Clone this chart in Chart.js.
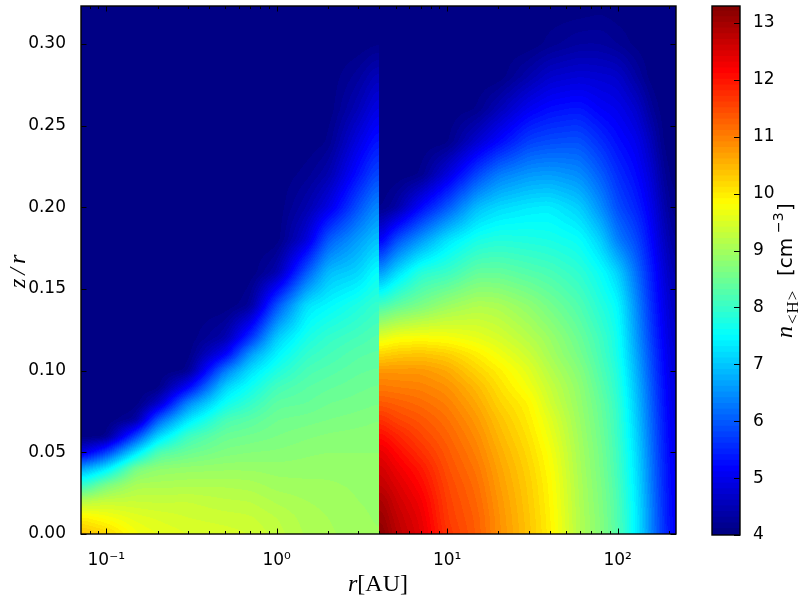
<!DOCTYPE html>
<html><head><meta charset="utf-8">
<style>html,body{margin:0;padding:0;background:#fff;width:800px;height:600px;overflow:hidden}
canvas{position:absolute;top:0}</style>
<script src="https://cdn.jsdelivr.net/npm/chart.js@4"></script></head>
<body><canvas id="main" width="800" height="600" style="left:0"></canvas>
<canvas id="bar" width="110" height="600" style="left:690px"></canvas>
<script>
const zRows=[0,.01,.02,.03,.04,.05,.06,.07,.08,.09,.10,.11,.12,.14,.16,.18,.20,.22,.24,.26,.28,.30,.3233];
const innerR=[0.0711,0.1,0.15,0.2,0.3,0.5,0.7,1,1.5,2,3,4];
const inner071=[10.4,9.95,9.15,7.9,6.6,4.8,4];
const inner010=[10.2,9.75,9.3,8.6,7.3,5.7,4.05,4];
const inner015=[9.72,9.55,9.3,9.05,8.6,7.25,5.8,4.25,4];
const inner020=[9.6,9.48,9.28,9.05,8.8,8.2,7.1,6.0,4.6,4];
const inner030=[9.5,9.4,9.3,9.08,8.85,8.45,8.05,7.25,6.4,5.1,4.1,4];
const inner050=[9.45,9.35,9.22,9.08,8.88,8.65,8.45,8.15,7.6,7.1,6.3,5.1,4.4,4];
const inner070=[9.4,9.32,9.2,9.05,8.88,8.7,8.52,8.3,7.95,7.6,7.2,6.6,5.6,4.2,4];
const inner100=[9.25,9.2,9.08,8.95,8.85,8.72,8.6,8.5,8.35,8.1,7.75,7.4,7.05,5.9,4.4,4];
const inner150=[9.08,9.05,9.0,8.93,8.85,8.78,8.68,8.55,8.4,8.3,8.15,7.95,7.7,7.25,6.0,4.8,4.4,4.15,4];
const inner200=[9.02,9.0,8.97,8.92,8.86,8.8,8.72,8.6,8.5,8.38,8.25,8.1,7.95,7.45,6.9,6.0,4.9,4.4,4.1,4];
const inner300=[8.95,8.93,8.9,8.88,8.84,8.8,8.75,8.65,8.55,8.47,8.38,8.28,8.12,7.75,7.1,6.6,5.9,5.3,4.9,4.5,4.25,4];
const inner400=[8.9,8.88,8.87,8.85,8.82,8.8,8.76,8.7,8.6,8.52,8.42,8.33,8.25,8.0,7.6,7.0,6.5,5.9,5.4,5.0,4.6,4.1,4];
const innerCols=[inner071,inner010,inner015,inner020,inner030,inner050,inner070,inner100,inner150,inner200,inner300,inner400];
const outerR=[4,5,7,10,15,20,30,40,60,80,100,130,160,190,220];
const outer004=[13.3,13.15,13.0,12.75,12.6,12.4,12.1,11.75,11.35,11.04,10.76,10.2,9.55,8.05,6.5,4.95,4.05,4];
const outer005=[12.8,12.72,12.6,12.47,12.3,12.1,11.85,11.52,11.28,11.0,10.76,10.3,9.75,8.35,7.15,5.85,4.3,4];
const outer007=[12.42,12.35,12.25,12.1,11.95,11.72,11.52,11.36,11.16,10.96,10.76,10.35,9.8,8.6,7.85,6.55,5.2,4.1,4];
const outer010=[11.68,11.6,11.56,11.5,11.42,11.34,11.24,11.12,10.98,10.82,10.6,10.25,9.75,8.9,8.0,7.25,5.95,4.85,4.05,4];
const outer015=[11.28,11.26,11.2,11.14,11.06,10.96,10.86,10.74,10.6,10.44,10.2,9.95,9.6,9.1,8.4,7.7,6.9,5.8,4.75,4.1,4];
const outer020=[10.84,10.82,10.78,10.72,10.66,10.58,10.48,10.38,10.23,10.1,9.95,9.7,9.45,9.05,8.4,7.8,7.15,6.3,5.2,4.5,4];
const outer030=[10.35,10.33,10.3,10.27,10.22,10.15,10.07,9.98,9.9,9.7,9.55,9.35,9.15,8.8,8.25,7.75,7.3,6.55,5.75,5.05,4.4,4];
const outer040=[9.95,9.93,9.9,9.87,9.82,9.75,9.65,9.55,9.4,9.3,9.15,9.0,8.9,8.55,8.15,7.7,7.35,6.6,5.85,5.25,4.7,4.15,4];
const outer060=[9.1,9.09,9.07,9.05,9.02,8.99,8.95,8.9,8.85,8.8,8.7,8.55,8.45,8.2,7.9,7.55,7.05,6.45,5.9,5.35,4.8,4.3,4];
const outer080=[8.7,8.68,8.65,8.62,8.58,8.55,8.5,8.45,8.4,8.3,8.2,8.12,8.05,7.8,7.55,7.05,6.45,6.0,5.55,5.1,4.75,4.3,4.05];
const outer100=[8.25,8.22,8.2,8.15,8.1,8.07,8.03,8.0,7.95,7.87,7.8,7.7,7.65,7.5,7.1,6.3,5.85,5.55,5.25,5.0,4.7,4.2,4];
const outer130=[7.35,7.33,7.3,7.25,7.2,7.15,7.07,7.0,6.93,6.85,6.75,6.65,6.55,6.4,6.15,5.8,5.45,5.2,5.0,4.7,4.3,4.05,4];
const outer160=[6.3,6.28,6.25,6.2,6.17,6.12,6.08,6.02,5.97,5.9,5.82,5.75,5.65,5.5,5.35,5.15,4.95,4.75,4.5,4.2,4];
const outer190=[5.5,5.48,5.45,5.42,5.4,5.35,5.32,5.28,5.22,5.18,5.12,5.07,5.0,4.9,4.75,4.55,4.35,4.15,4];
const outer220=[5.0,4.99,4.98,4.96,4.93,4.9,4.87,4.83,4.8,4.76,4.72,4.68,4.62,4.5,4.35,4.2,4.05,4];
const outerCols=[outer004,outer005,outer007,outer010,outer015,outer020,outer030,outer040,outer060,outer080,outer100,outer130,outer160,outer190,outer220];
const yTicks=[0,.05,.10,.15,.20,.25,.30];
const xMajor=[0.1,1,10,100];
const xLabels={0.1:'10⁻¹',1:'10⁰',10:'10¹',100:'10²'};
const xMinor=[0.08,0.09,0.2,0.3,0.4,0.5,0.6,0.7,0.8,0.9,2,3,4,5,6,7,8,9,20,30,40,50,60,70,80,90,200];
const cbTicks=[4,5,6,7,8,9,10,11,12,13];
const levels=[4,4.1,4.2,4.3,4.4,4.5,4.6,4.7,4.8,4.9,5,5.1,5.2,5.3,5.4,5.5,5.6,5.7,5.8,5.9,6,6.1,6.2,6.3,6.4,6.5,6.6,6.7,6.8,6.9,7,7.1,7.2,7.3,7.4,7.5,7.6,7.7,7.8,7.9,8,8.1,8.2,8.3,8.4,8.5,8.6,8.7,8.8,8.9,9,9.1,9.2,9.3,9.4,9.5,9.6,9.7,9.8,9.9,10,10.1,10.2,10.3,10.4,10.5,10.6,10.7,10.8,10.9,11,11.1,11.2,11.3,11.4,11.5,11.6,11.7,11.8,11.9,12,12.1,12.2,12.3,12.4,12.5,12.6,12.7,12.8,12.9,13,13.1,13.2];
const vMin=4,vMax=13.3,levelStep=0.1;

function jet(v){
  const t=Math.min(1,Math.max(0,(v-vMin)/(vMax-vMin)));
  const c=x=>Math.round(255*Math.min(1,Math.max(0,x)));
  return [c(1.5-Math.abs(4*t-3)),c(1.5-Math.abs(4*t-2)),c(1.5-Math.abs(4*t-1))];
}
const locate=(a,x)=>{let i=0;while(i<a.length-2&&x>a[i+1])i++;return [i,(x-a[i])/(a[i+1]-a[i])];};
function sample(rs,cols,r,z){
  const [i,f]=locate(rs.map(Math.log10),Math.log10(r));
  const [j,g]=locate(zRows,z);
  const at=(c,k)=>cols[c][k]??4;
  const a=at(i,j)*(1-g)+at(i,j+1)*g, b=at(i+1,j)*(1-g)+at(i+1,j+1)*g;
  return a*(1-f)+b*f;
}
const points=(rs,cols)=>rs.flatMap((r,i)=>zRows.map((z,j)=>({x:r,y:z,v:cols[i][j]??4})));

// soften the read-off table into a continuous shading, mirrored at the edges of each half
function soften(f,w,h,rx,ry){
  const mir=(k,n)=>k<0?-k-1:k>=n?2*n-k-1:k;
  const g=new Float32Array(w*h);
  for(let j=0;j<h;j++)for(let i=0;i<w;i++){let s=0;for(let d=-rx;d<=rx;d++)s+=f[j*w+mir(i+d,w)];g[j*w+i]=s/(2*rx+1);}
  for(let j=0;j<h;j++)for(let i=0;i<w;i++){let s=0;for(let d=-ry;d<=ry;d++)s+=g[mir(j+d,h)*w+i];f[j*w+i]=s/(2*ry+1);}
}
const field={id:'field',beforeDatasetsDraw(ch){
  const {ctx,chartArea:a,scales:{x,y}}=ch;
  const L=Math.round(a.left),T=Math.round(a.top),W=Math.round(a.right)-L,H=Math.round(a.bottom)-T;
  const img=ctx.createImageData(W,H);
  const split=Math.round(x.getPixelForValue(4))-L;
  const zv=[];for(let j=0;j<H;j++)zv.push(Math.max(0,y.getValueForPixel(T+j+.5)));
  const paint=(i0,i1,rs,cols)=>{
    const w=i1-i0,f=new Float32Array(w*H);
    for(let i=0;i<w;i++){const r=x.getValueForPixel(L+i0+i+.5);
      for(let j=0;j<H;j++)f[j*w+i]=sample(rs,cols,Math.min(Math.max(r,rs[0]),rs[rs.length-1]),zv[j]);}
    for(let p=0;p<2;p++)soften(f,w,H,5,2);
    for(let j=0;j<H;j++)for(let i=0;i<w;i++){
      const v=f[j*w+i],lev=Math.floor((v-vMin)/levelStep)*levelStep+vMin+levelStep/2;
      const c=jet(lev),p=4*(j*W+i0+i);
      img.data[p]=c[0];img.data[p+1]=c[1];img.data[p+2]=c[2];img.data[p+3]=255;
    }
  };
  paint(0,split,innerR,innerCols);paint(split,W,outerR,outerCols);
  ctx.putImageData(img,L,T);
}};
function run(ctx,parts,x,y){
  for(const [t,f] of parts){ctx.font=f;ctx.fillText(t,x,y);x+=ctx.measureText(t).width;}
}
const frame={id:'frame',afterDraw(ch){
  const {ctx,chartArea:a,scales:{x,y}}=ch;
  ctx.save();ctx.strokeStyle='#000';ctx.fillStyle='#000';ctx.lineWidth=1;
  const tick=(x1,y1,x2,y2)=>{ctx.beginPath();ctx.moveTo(x1,y1);ctx.lineTo(x2,y2);ctx.stroke();};
  for(const v of xMajor){const p=Math.round(x.getPixelForValue(v))+.5;tick(p,a.bottom,p,a.bottom-5.5);tick(p,a.top,p,a.top+5.5);}
  for(const v of xMinor){const p=Math.round(x.getPixelForValue(v))+.5;tick(p,a.bottom,p,a.bottom-3);tick(p,a.top,p,a.top+3);}
  for(const v of yTicks){const p=Math.round(y.getPixelForValue(v))+.5;tick(a.left,p,a.left+5.5,p);tick(a.right,p,a.right-5.5,p);}
  ctx.lineWidth=1.4;ctx.strokeRect(a.left,a.top,a.right-a.left,a.bottom-a.top);
  ctx.textBaseline='alphabetic';ctx.textAlign='left';
  run(ctx,[['r','italic 24px "Liberation Serif"'],['[AU]','24px "Liberation Serif"']],348,591);
  ctx.translate(25,288);ctx.rotate(-Math.PI/2);ctx.letterSpacing='4px';
  ctx.font='italic 24px "Liberation Serif"';ctx.fillText('z/r',0,0);
  ctx.restore();
}};
const noPad=s=>{s.paddingTop=s.paddingBottom=s.paddingLeft=s.paddingRight=0;};
new Chart(document.getElementById('main'),{type:'scatter',
  data:{datasets:[
    {label:'inner',data:points(innerR,innerCols),pointRadius:0},
    {label:'outer',data:points(outerR,outerCols),pointRadius:0}]},
  options:{responsive:false,animation:false,
    layout:{padding:{left:0,top:6,right:124,bottom:0}},
    plugins:{legend:{display:false},tooltip:{enabled:false}},
    scales:{
      x:{type:'logarithmic',min:0.0711,max:220,grid:{display:false},border:{display:false},
        afterBuildTicks:s=>{s.ticks=xMajor.map(v=>({value:v,major:true}));},
        afterFit:s=>{s.height=66;noPad(s);},
        ticks:{autoSkip:false,maxRotation:0,padding:8,color:'#000',font:{family:'DejaVu Sans',size:17},callback:v=>xLabels[v]||''}},
      y:{min:0,max:0.3233,grid:{display:false},border:{display:false},
        afterBuildTicks:s=>{s.ticks=yTicks.map(v=>({value:v}));},
        afterFit:s=>{s.width=81;noPad(s);},
        ticks:{padding:7,color:'#000',font:{family:'DejaVu Sans',size:17},callback:v=>v.toFixed(2)}}
    }},plugins:[field,frame]});

const cbFrame={id:'cbFrame',afterDraw(ch){
  const {ctx,chartArea:a,scales:{y}}=ch;
  ctx.save();ctx.strokeStyle='#000';ctx.fillStyle='#000';ctx.lineWidth=1;
  for(const v of cbTicks){const p=Math.round(y.getPixelForValue(v))+.5;ctx.beginPath();ctx.moveTo(a.right,p);ctx.lineTo(a.right-6,p);ctx.stroke();}
  ctx.lineWidth=1.4;ctx.strokeRect(a.left,a.top,a.right-a.left,a.bottom-a.top);
  ctx.textBaseline='alphabetic';ctx.textAlign='left';
  ctx.translate(102,338);ctx.rotate(-Math.PI/2);
  ctx.font='italic 24px "Liberation Serif"';ctx.fillText('n',0,0);
  ctx.font='17px "Liberation Serif"';ctx.letterSpacing='1px';ctx.fillText('<H>',14,6);ctx.letterSpacing='0px';
  ctx.font='20px "DejaVu Sans"';ctx.fillText('[cm',62,0);
  ctx.font='14px "DejaVu Sans"';ctx.fillText('−3',105,-9);
  ctx.font='20px "DejaVu Sans"';ctx.fillText(']',127,0);
  ctx.restore();
}};
new Chart(document.getElementById('bar'),{type:'bar',
  data:{labels:['n'],datasets:levels.map(l=>({data:[[l,l+levelStep*1.15]],backgroundColor:`rgb(${jet(l+levelStep/2).join(',')})`,barPercentage:1,categoryPercentage:1,grouped:false,borderWidth:0}))},
  options:{responsive:false,animation:false,
    layout:{padding:{left:22,top:6,right:0,bottom:65}},
    plugins:{legend:{display:false},tooltip:{enabled:false}},
    scales:{
      x:{display:false},
      y:{position:'right',min:vMin,max:vMax,grid:{display:false},border:{display:false},
        afterBuildTicks:s=>{s.ticks=cbTicks.map(v=>({value:v}));},
        afterFit:s=>{s.width=60;noPad(s);},
        ticks:{padding:5,color:'#000',font:{family:'DejaVu Sans',size:17},callback:v=>String(v)}}
    }},plugins:[cbFrame]});
</script></body></html>
